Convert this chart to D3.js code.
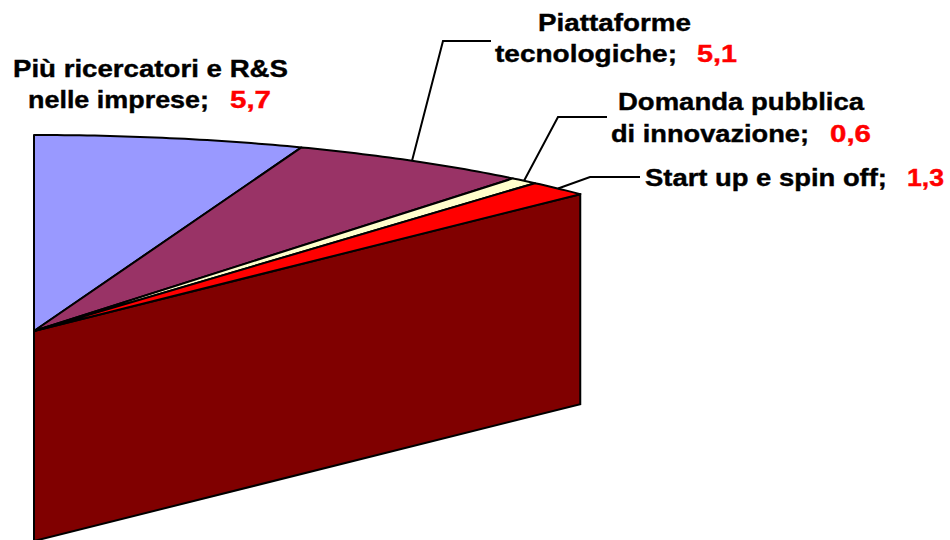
<!DOCTYPE html>
<html>
<head>
<meta charset="utf-8">
<script src="https://cdn.jsdelivr.net/npm/d3@7"></script>
<style>
  html, body { margin: 0; padding: 0; background: #fff; }
  svg { display: block; }
  text { font-family: "Liberation Sans", Arial, sans-serif; font-weight: bold; font-size: 24px; stroke-width: 0.4; }
</style>
</head>
<body>
<svg id="drawing_region"></svg>
<script>
const categories = ["Più ricercatori e R&S nelle imprese", "Piattaforme tecnologiche", "Domanda pubblica di innovazione", "Start up e spin off"];
const values = [5.7, 5.1, 0.6, 1.3];
const valueLabels = ["5,7", "5,1", "0,6", "1,3"];
const total = 100;   // the rest of the pie is out of the picture
const colors = ["#9999ff", "#993366", "#ffffcc", "#ff0000"];
const wallColor = "#800000";

const width = 950, height = 540;
const center = {x: 34, y: 331};
const radius = {x: 763, y: 196};
const depth = 210;

// text lines of each label: [text, left, right, baseline]
const labelLines = [
    [["Più ricercatori e R&S", 13, 288, 77], ["nelle imprese;", 28, 209, 108]],
    [["Piattaforme", 538, 691, 31], ["tecnologiche;", 495, 677, 62]],
    [["Domanda pubblica", 618, 864, 110], ["di innovazione;", 611, 809, 142]],
    [["Start up e spin off;", 645, 887, 186]]
];
const valueBoxes = [[230, 271, 108], [697, 737, 62], [830, 871, 142], [907, 944, 186]];
// elbow of each leader line: [elbow x, elbow y, end x]
const leaders = [null, [443, 41, 491], [558, 117, 607], [590, 177, 640]];

const svg = d3.select("#drawing_region").attr("width", width).attr("height", height);

const xscale = d3.scaleLinear().domain([0, 1]).range([center.x, center.x + radius.x]);
const yscale = d3.scaleLinear().domain([0, 1]).range([center.y, center.y - radius.y]);
const anglescale = d3.scaleLinear().domain([0, total]).range([0, 2 * Math.PI]);

const px = a => xscale(Math.sin(a));
const py = a => yscale(Math.cos(a));

const cum = d3.cumsum(values);
const slices = values.map((v, i) => ({
    start: anglescale(i ? cum[i - 1] : 0),
    end: anglescale(cum[i]),
    mid: anglescale((i ? cum[i - 1] : 0) + v / 2),
    color: colors[i],
    name: categories[i]
}));

const line = d3.line().x(d => d[0]).y(d => d[1]);

// front wall of the cut
const lastAngle = slices[slices.length - 1].end;
const wall = [
    [center.x, center.y],
    [px(lastAngle), py(lastAngle)],
    [px(lastAngle), py(lastAngle) + depth],
    [center.x, center.y + depth]
];
svg.append("path")
    .attr("d", line(wall) + "Z")
    .attr("fill", wallColor)
    .attr("stroke", "#000")
    .attr("stroke-width", 2);

// slices
svg.selectAll("path.slice")
    .data(slices)
    .join("path")
    .attr("class", "slice")
    .attr("d", d => {
        const n = Math.max(2, Math.ceil((d.end - d.start) / 0.01));
        const rim = d3.range(n + 1).map(k => {
            const a = d.start + (d.end - d.start) * k / n;
            return [px(a), py(a)];
        });
        return line([[center.x, center.y], ...rim]) + "Z";
    })
    .attr("fill", d => d.color)
    .attr("stroke", "#000")
    .attr("stroke-width", 2)
    .attr("stroke-linejoin", "round");

// leader lines
svg.selectAll("path.leader")
    .data(slices.filter((d, i) => leaders[i]).map(d => ({d, l: leaders[slices.indexOf(d)]})))
    .join("path")
    .attr("class", "leader")
    .attr("d", e => line([[px(e.d.mid), py(e.d.mid)], [e.l[0], e.l[1]], [e.l[2], e.l[1]]]))
    .attr("fill", "none")
    .attr("stroke", "#000")
    .attr("stroke-width", 2);

// labels
labelLines.flat().forEach(t => {
    svg.append("text")
        .attr("x", t[1])
        .attr("y", t[3])
        .attr("textLength", t[2] - t[1])
        .attr("lengthAdjust", "spacingAndGlyphs")
        .attr("fill", "#000")
        .attr("stroke", "#000")
        .text(t[0]);
});
valueBoxes.forEach((b, i) => {
    svg.append("text")
        .attr("x", b[0])
        .attr("y", b[2])
        .attr("textLength", b[1] - b[0])
        .attr("lengthAdjust", "spacingAndGlyphs")
        .attr("fill", "#ff0000")
        .attr("stroke", "#ff0000")
        .text(valueLabels[i]);
});
</script>
</body>
</html>
